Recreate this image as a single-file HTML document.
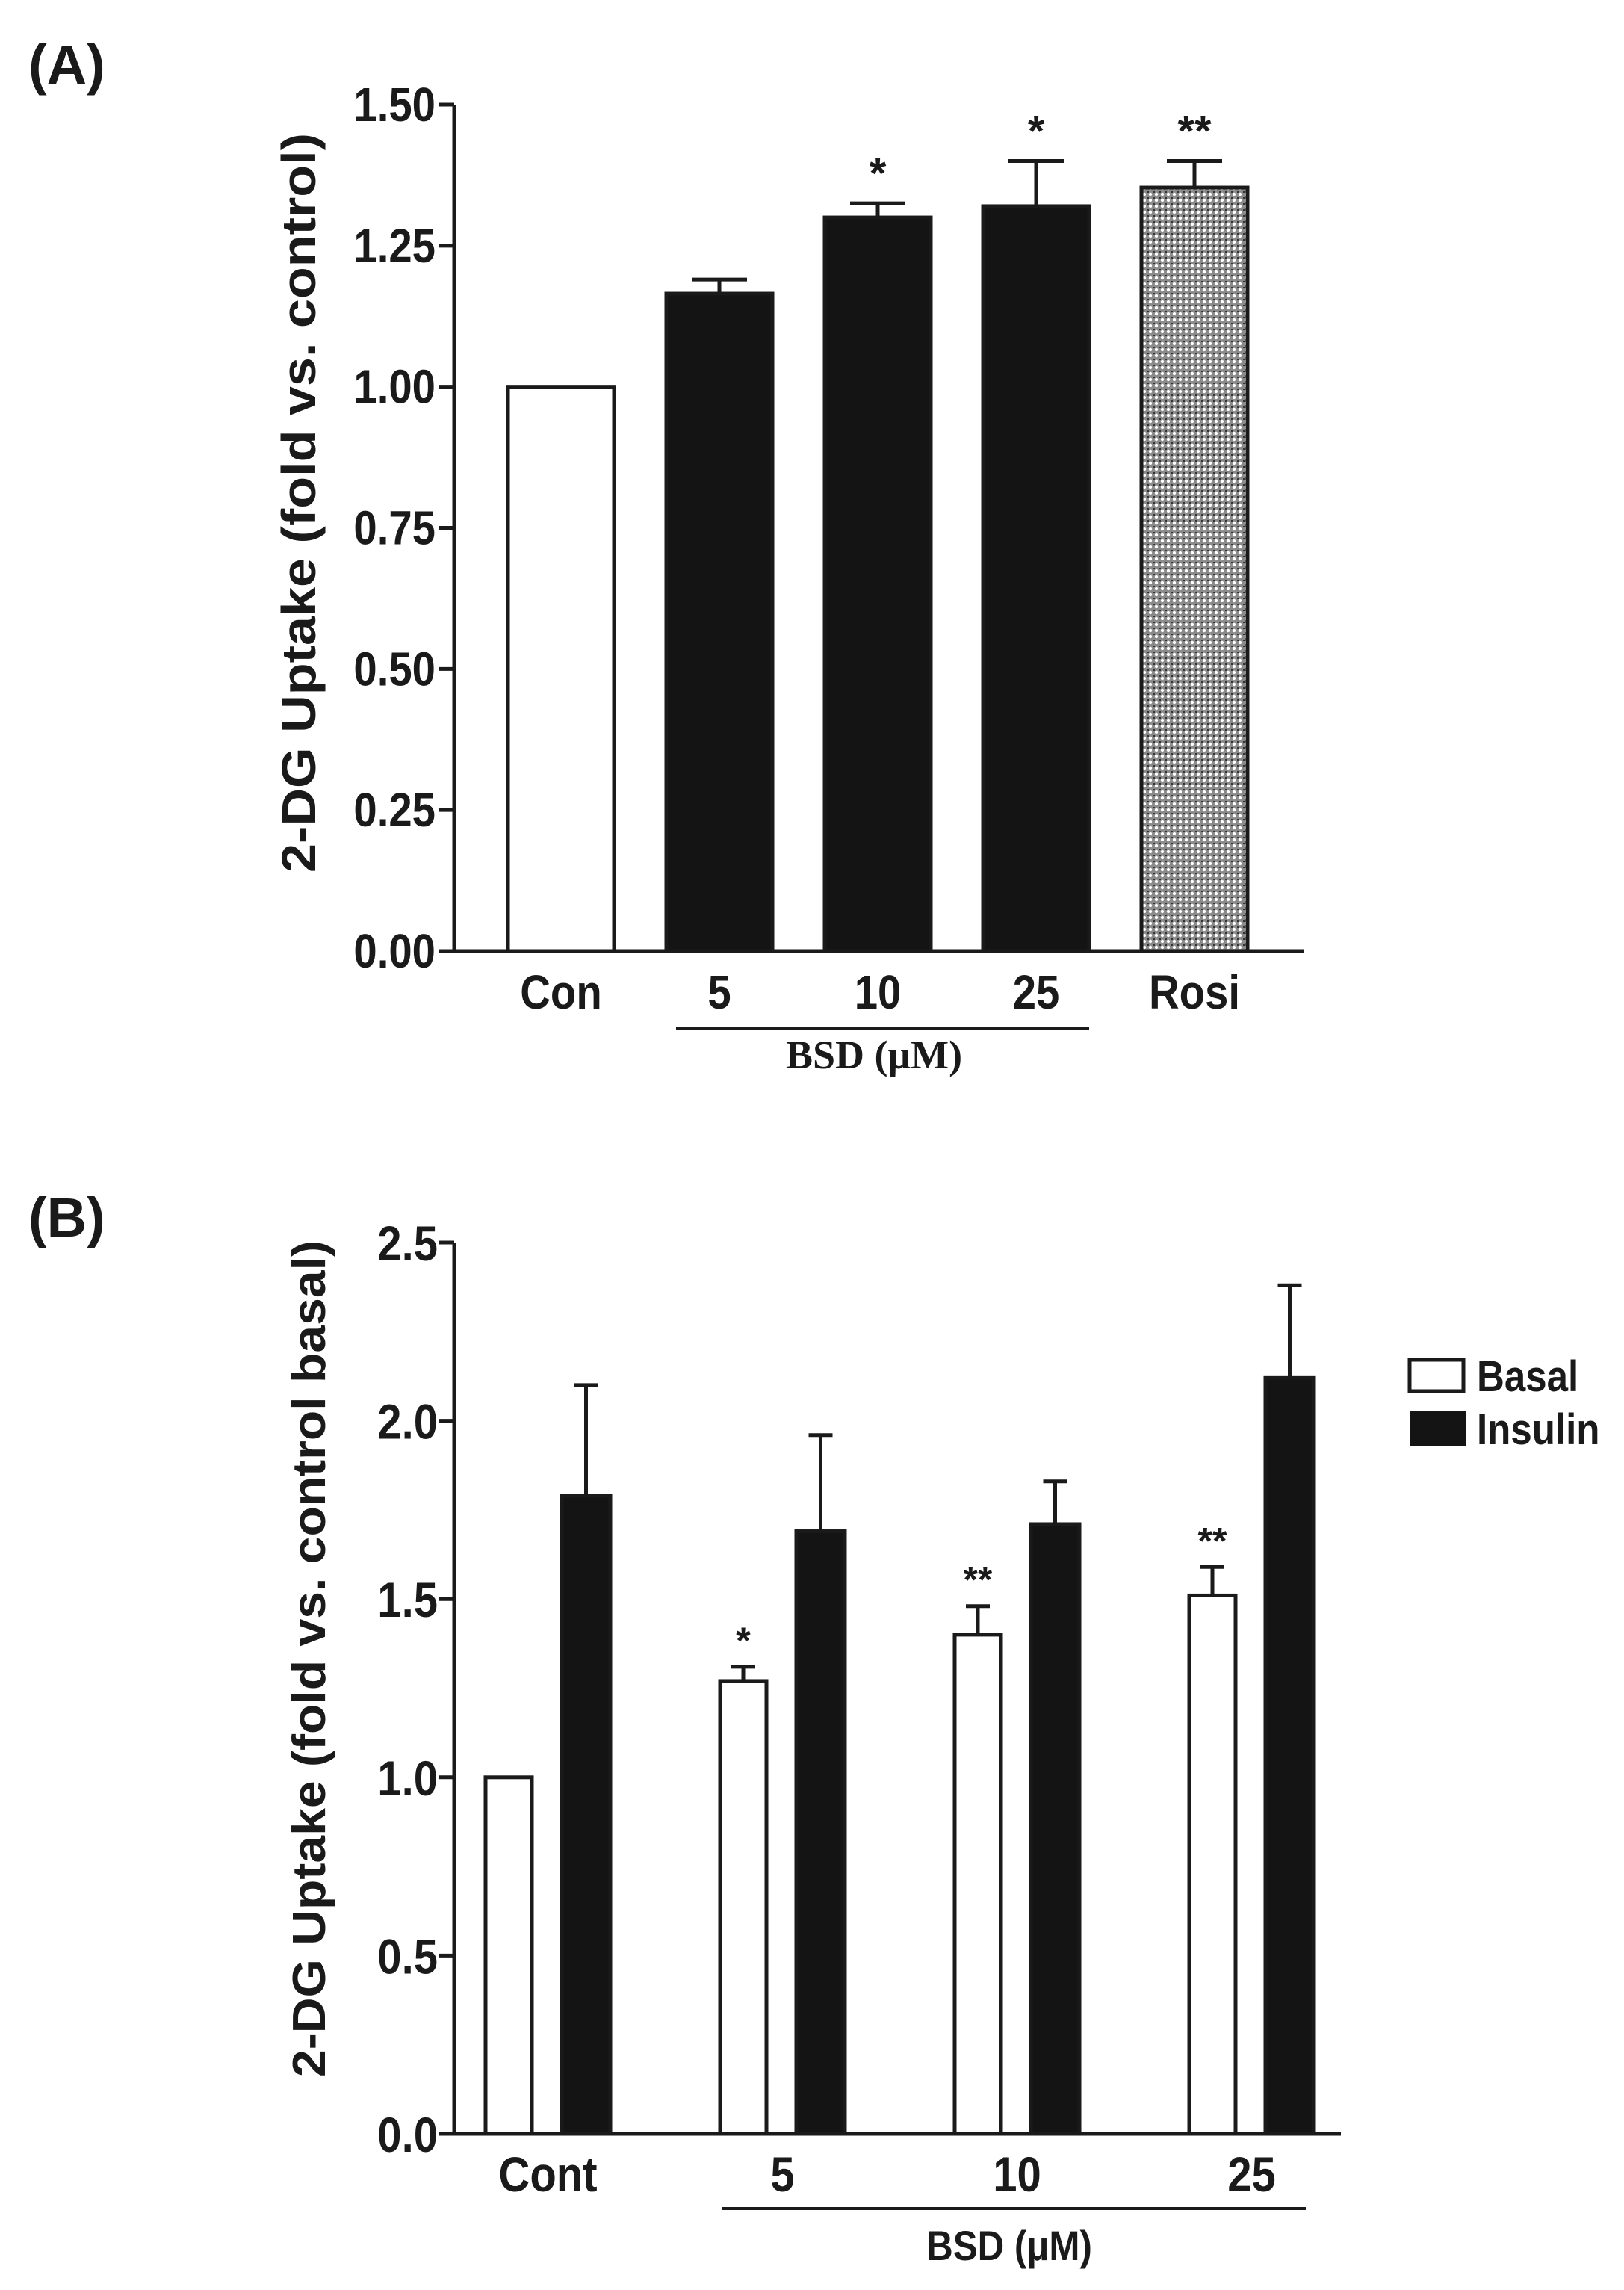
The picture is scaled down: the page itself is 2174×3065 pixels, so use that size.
<!DOCTYPE html>
<html><head><meta charset="utf-8"><style>
html,body{margin:0;padding:0;background:#fff;}
svg{display:block;}
text{font-weight:bold;fill:#1a1a1a;}
</style></head><body>
<svg id="fig" width="2174" height="3065" viewBox="0 0 2174 3065" xmlns="http://www.w3.org/2000/svg">
<defs>
<pattern id="checker" width="8" height="8" patternUnits="userSpaceOnUse">
<rect width="8" height="8" fill="#8a8a8a"/>
<circle cx="4" cy="4" r="2.2" fill="#fff"/>
<rect x="0" y="0" width="2" height="2" fill="#333"/>
</pattern>
</defs>
<text x="38" y="112" font-size="74" style="font-family:'Liberation Sans',sans-serif">(A)</text>
<text x="38" y="1655" font-size="74" style="font-family:'Liberation Sans',sans-serif">(B)</text>
<g id="chartA"></g>
<g id="chartB"></g>
</svg>
<script>
// ---- Panel A data ----
const catsA = ["Con","5","10","25","Rosi"];
const valsA = [1.00,1.165,1.30,1.32,1.353];
const errA = [0,0.025,0.025,0.08,0.047];
const starsA = ["","","*","*","**"];
const fillA = ["white","black","black","black","pattern"];
const ticksA = ["0.00","0.25","0.50","0.75","1.00","1.25","1.50"];
// ---- Panel B data ----
const catsB = ["Cont","5","10","25"];
const basalB = [1.00,1.27,1.40,1.51];
const basalErrB = [0,0.04,0.08,0.08];
const insulinB = [1.79,1.69,1.71,2.12];
const insulinErrB = [0.31,0.27,0.12,0.26];
const starsB = ["","*","**","**"];
const ticksB = ["0.0","0.5","1.0","1.5","2.0","2.5"];

const NS="http://www.w3.org/2000/svg";
const SANS="font-family:'Liberation Sans',sans-serif";
const condensed=[];
function mk(parent,tag,attrs,txt){const e=document.createElementNS(NS,tag);for(const k in attrs)e.setAttribute(k,attrs[k]);if(tag==='text'&&!attrs.style)e.setAttribute('style',SANS);if(txt!==undefined)e.textContent=txt;parent.appendChild(e);return e;}
function cond(e){condensed.push(e);return e;}

// ===== Panel A =====
(function(){
const g=document.getElementById('chartA');
const x0=608,xEnd=1745,y0=1273,yTop=140,vmax=1.5;
const yA=v=>y0-(v/vmax)*(y0-yTop);
const barW=142,firstLeft=680,pitch=212;
const xA=i=>firstLeft+i*pitch;
ticksA.forEach((t,i)=>{
  const v=parseFloat(t),y=yA(v);
  const tk=mk(g,'line',{x1:x0-20,y1:y,x2:x0,y2:y,stroke:'#1a1a1a','stroke-width':5});
  
  
  const lb=cond(mk(g,'text',{x:583,y:y+22,'font-size':64,'text-anchor':'end'},t));
  
  
});
catsA.forEach((c,i)=>{
  const v=valsA[i],x=xA(i),y=yA(v);
  let fill=fillA[i]==='pattern'?'url(#checker)':(fillA[i]==='white'?'#fff':'#141414');
  const r=mk(g,'rect',{x:x,y:y,width:barW,height:y0-y,fill:fill,stroke:'#1a1a1a','stroke-width':5});
  
  
  if(errA[i]>0){
    const ye=yA(v+errA[i]),cx=x+barW/2;
    const e1=mk(g,'line',{x1:cx,y1:y,x2:cx,y2:ye,stroke:'#1a1a1a','stroke-width':5});
    
    
    const e2=mk(g,'line',{x1:cx-37,y1:ye,x2:cx+37,y2:ye,stroke:'#1a1a1a','stroke-width':5});
    
    
    if(starsA[i]){
      const s=mk(g,'text',{x:cx,y:ye-20,'font-size':58,'text-anchor':'middle'},starsA[i]);
      
      
    }
  }
  const lb=cond(mk(g,'text',{x:x+barW/2,y:1350,'font-size':64,'text-anchor':'middle'},c));
  
  
});
const ax=mk(g,'path',{d:`M${x0} ${yTop} V${y0} H${xEnd}`,fill:'none',stroke:'#1a1a1a','stroke-width':5});


const bl=mk(g,'line',{x1:905,y1:1377,x2:1458,y2:1377,stroke:'#1a1a1a','stroke-width':4});


const bt=mk(g,'text',{x:1170,y:1430,'font-size':54,'text-anchor':'middle',style:"font-family:'Liberation Serif',serif"},'BSD (μM)');


const yt=mk(g,'text',{x:0,y:0,'font-size':64,'text-anchor':'middle',transform:'translate(422,673) rotate(-90)',textLength:990,lengthAdjust:'spacingAndGlyphs'},'2-DG Uptake (fold vs. control)');


})();

// ===== Panel B =====
(function(){
const g=document.getElementById('chartB');
const x0=608,xEnd=1795,y0=2856,yTop=1663,vmax=2.5;
const yB=v=>y0-(v/vmax)*(y0-yTop);
const bw=62,iw=65,firstLeft=650,pitch=314,ioff=102;
const xB=i=>firstLeft+i*pitch;
ticksB.forEach(t=>{
  const v=parseFloat(t),y=yB(v);
  const tk=mk(g,'line',{x1:x0-20,y1:y,x2:x0,y2:y,stroke:'#1a1a1a','stroke-width':5});
  
  
  const lb=cond(mk(g,'text',{x:586,y:y+24,'font-size':66,'text-anchor':'end'},t));
  
  
});
function bar(x,w,v,err,fill,name,star){
  const y=yB(v);
  const r=mk(g,'rect',{x:x,y:y,width:w,height:y0-y,fill:fill,stroke:'#1a1a1a','stroke-width':5});
  
  
  if(err>0){
    const ye=yB(v+err),cx=x+w/2;
    const e1=mk(g,'line',{x1:cx,y1:y,x2:cx,y2:ye,stroke:'#1a1a1a','stroke-width':5});
    
    
    const e2=mk(g,'line',{x1:cx-16,y1:ye,x2:cx+16,y2:ye,stroke:'#1a1a1a','stroke-width':5});
    
    
    if(star){
      const s=mk(g,'text',{x:cx,y:ye-18,'font-size':50,'text-anchor':'middle'},star);
      
      
    }
  }
}
catsB.forEach((c,i)=>{
  const x=xB(i);
  bar(x,bw,basalB[i],basalErrB[i],'#fff','bar-basal-'+c.toLowerCase(),starsB[i]);
  bar(x+ioff,iw,insulinB[i],insulinErrB[i],'#141414','bar-insulin-'+c.toLowerCase(),'');
  const lb=cond(mk(g,'text',{x:(x+x+ioff+iw)/2,y:2933,'font-size':66,'text-anchor':'middle'},c));
  
  
});
const ax=mk(g,'path',{d:`M${x0} ${yTop} V${y0} H${xEnd}`,fill:'none',stroke:'#1a1a1a','stroke-width':5});


const bl=mk(g,'line',{x1:966,y1:2956,x2:1748,y2:2956,stroke:'#1a1a1a','stroke-width':4});


const bt=cond(mk(g,'text',{x:1351,y:3025,'font-size':56,'text-anchor':'middle'},'BSD (μM)'));


const yt=mk(g,'text',{x:0,y:0,'font-size':62,'text-anchor':'middle',transform:'translate(435,2220) rotate(-90)',textLength:1120,lengthAdjust:'spacingAndGlyphs'},'2-DG Uptake (fold vs. control basal)');


// legend
const l1=mk(g,'rect',{x:1887,y:1820,width:72,height:42,fill:'#fff',stroke:'#1a1a1a','stroke-width':5});


const t1=cond(mk(g,'text',{x:1977,y:1862,'font-size':58},'Basal'));


const l2=mk(g,'rect',{x:1887,y:1889,width:75,height:46,fill:'#141414'});


const t2=cond(mk(g,'text',{x:1977,y:1933,'font-size':58},'Insulin'));


})();

// condense labels to mimic the narrow face
condensed.forEach(e=>{
  const L=e.getComputedTextLength();
  if(L>0){e.setAttribute('textLength',(L*0.88).toFixed(1));e.setAttribute('lengthAdjust','spacingAndGlyphs');}
});
</script>
</body></html>
